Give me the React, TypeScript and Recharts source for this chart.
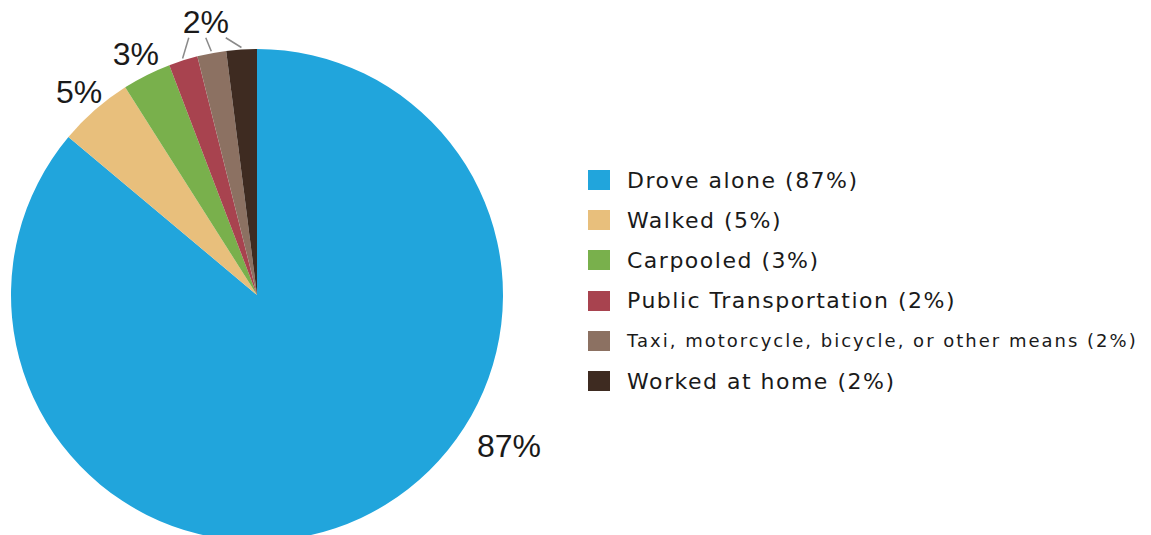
import { Cell, Legend, Pie, PieChart } from "recharts";

const categories = [
  "Drove alone",
  "Walked",
  "Carpooled",
  "Public Transportation",
  "Taxi, motorcycle, bicycle, or other means",
  "Worked at home",
];
const shares = [86.1, 4.9, 3.2, 1.9, 1.9, 2.0];
const pctLabels = ["87%", "5%", "3%", "2%", "2%", "2%"];
const colors = ["#21a5dc", "#e8bf7c", "#79b04c", "#a8434f", "#8c7162", "#3e2b21"];

const data = categories.map((name, i) => ({ name, value: shares[i] }));
const total = shares.reduce((a, b) => a + b, 0);

const RAD = Math.PI / 180;
const polar = (cx: number, cy: number, r: number, angle: number) => ({
  x: cx + r * Math.cos(-angle * RAD),
  y: cy + r * Math.sin(-angle * RAD),
});

// mid angle of slice i, same direction as the pie (start 90, clockwise)
const midOf = (i: number) => {
  const before = shares.slice(0, i).reduce((a, b) => a + b, 0);
  return 90 - ((before + shares[i] / 2) / total) * 360;
};

const smallGroup = [3, 4, 5];
const lineOffsets = [-17, 0, 20];

const renderLabel = (p: any) => {
  const { cx, cy, midAngle, outerRadius, index } = p;
  const textStyle = {
    fontFamily: "Liberation Sans, Arial, sans-serif",
    fontSize: 32,
    fill: "#1a1a1a",
  };
  if (index === 0) {
    const pos = polar(cx, cy, outerRadius + 48, -31);
    return (
      <text x={pos.x} y={pos.y} textAnchor="middle" dominantBaseline="central" style={textStyle}>
        {pctLabels[index]}
      </text>
    );
  }
  if (smallGroup.includes(index)) {
    const anchor = polar(cx, cy, outerRadius + 32, midOf(4));
    const k = smallGroup.indexOf(index);
    const start = polar(cx, cy, outerRadius + 2, midAngle);
    return (
      <g>
        <line
          x1={start.x}
          y1={start.y}
          x2={anchor.x + lineOffsets[k]}
          y2={anchor.y + 16}
          stroke="#8a8a8a"
          strokeWidth={1.5}
        />
        {index === 4 && (
          <text x={anchor.x} y={anchor.y} textAnchor="middle" dominantBaseline="central" style={textStyle}>
            {pctLabels[index]}
          </text>
        )}
      </g>
    );
  }
  const pos = polar(cx, cy, outerRadius + 24, midAngle);
  return (
    <text x={pos.x} y={pos.y} textAnchor="middle" dominantBaseline="central" style={textStyle}>
      {pctLabels[index]}
    </text>
  );
};

const renderLegend = () => (
  <div style={{ fontFamily: "DejaVu Sans, sans-serif", color: "#1a1a1a" }}>
    {categories.map((name, i) => (
      <div key={name} style={{ height: 40.2, display: "flex", alignItems: "center" }}>
        <div style={{ width: 22, height: 20, background: colors[i], marginRight: 17 }} />
        <span
          style={{
            fontSize: i === 4 ? 18 : 22,
            letterSpacing: i === 4 ? 2 : 1.5,
            whiteSpace: "nowrap",
          }}
        >
          {name} ({pctLabels[i]})
        </span>
      </div>
    ))}
  </div>
);

export default function App() {
  return (
    <div style={{ position: "absolute", left: 0, top: 0, background: "#fff" }}>
      <PieChart width={1151} height={535} margin={{ top: 0, right: 0, bottom: 0, left: 0 }}>
        <Pie
          data={data}
          dataKey="value"
          nameKey="name"
          cx={257}
          cy={295}
          outerRadius={246}
          startAngle={90}
          endAngle={-270}
          stroke="none"
          label={renderLabel}
          labelLine={false}
          isAnimationActive={false}
        >
          {data.map((d, i) => (
            <Cell key={d.name} fill={colors[i]} />
          ))}
        </Pie>
        <Legend content={renderLegend} wrapperStyle={{ left: 588, top: 160, width: 560 }} />
      </PieChart>
    </div>
  );
}
